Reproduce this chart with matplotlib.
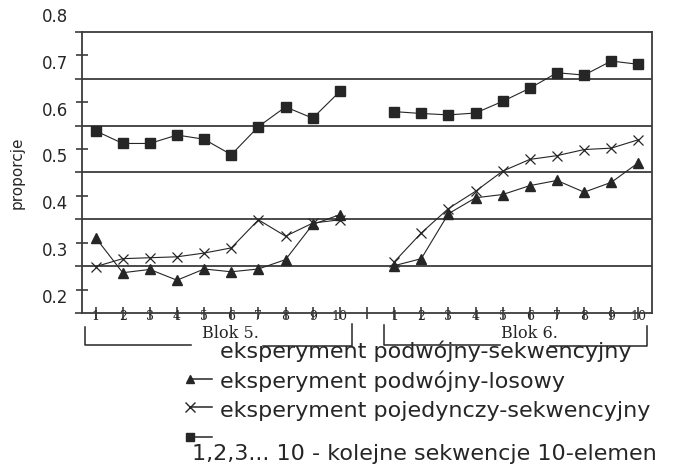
import matplotlib.pyplot as plt
from matplotlib.lines import Line2D
from matplotlib.transforms import offset_copy
import numpy as np

# Sequence numbers shown under each block (the 11th slot is the gap between blocks)
seq_labels = ['1', '2', '3', '4', '5', '6', '7', '8', '9', '10']
block_names = ['Blok 5.', 'Blok 6.']

# Proportions, block 5 and block 6
sq_blok5 = [0.589, 0.562, 0.562, 0.580, 0.571, 0.538, 0.598, 0.640, 0.616, 0.673]
sq_blok6 = [0.630, 0.626, 0.623, 0.627, 0.652, 0.680, 0.713, 0.708, 0.738, 0.731]
tri_blok5 = [0.361, 0.286, 0.293, 0.270, 0.294, 0.288, 0.294, 0.314, 0.389, 0.410]
tri_blok6 = [0.301, 0.316, 0.412, 0.446, 0.453, 0.472, 0.483, 0.458, 0.479, 0.521]
x_blok5 = [0.299, 0.316, 0.318, 0.320, 0.328, 0.339, 0.399, 0.364, 0.392, 0.399]
x_blok6 = [0.309, 0.371, 0.423, 0.460, 0.503, 0.528, 0.536, 0.549, 0.552, 0.570]

y_labels = ['0.2', '0.3', '0.4', '0.5', '0.6', '0.7', '0.8']
y_values = [0.2, 0.3, 0.4, 0.5, 0.6, 0.7, 0.8]

legend_lines = ['eksperyment podwójny-sekwencyjny',
                'eksperyment podwójny-losowy',
                'eksperyment pojedynczy-sekwencyjny',
                '1,2,3... 10 - kolejne sekwencje 10-elemen']

ink = '#262626'
W, H = 677, 466

fig = plt.figure(figsize=(W / 100, H / 100), dpi=100)
ax = fig.add_axes([82 / W, 1 - 313 / H, 570 / W, 281 / H])

pos5 = np.arange(10)
pos6 = np.arange(11, 21)

style = dict(color=ink, lw=0.8)
ax.plot(pos5, sq_blok5, marker='s', ms=7, **style)
ax.plot(pos6, sq_blok6, marker='s', ms=7, **style)
ax.plot(pos5, tri_blok5, marker='^', ms=6.5, **style)
ax.plot(pos6, tri_blok6, marker='^', ms=6.5, **style)
ax.plot(pos5, x_blok5, marker='x', ms=7, mew=0.9, **style)
ax.plot(pos6, x_blok6, marker='x', ms=7, mew=0.9, **style)

ax.set_xlim(-0.5, 20.5)
ax.set_ylim(0.2, 0.8)

# horizontal grid lines
for v in y_values[1:-1]:
    ax.axhline(v, color='#3c3c3c', lw=1.3, zorder=0)

for s in ax.spines.values():
    s.set_color('#3c3c3c')
    s.set_linewidth(1.3)

# y axis: short outward ticks at grid lines, crossing ticks halfway
ax.set_yticks(y_values)
ax.set_yticklabels([])
ax.set_yticks(np.array(y_values[:-1]) + 0.05, minor=True)
ax.tick_params(axis='y', which='major', direction='out', length=5, width=1.2, color='#3c3c3c')
ax.tick_params(axis='y', which='minor', direction='inout', length=8, width=1.2, color='#3c3c3c')

# y labels sit a bit above their grid lines, like in the scanned original
ytrans = offset_copy(ax.get_yaxis_transform(), fig=fig, x=-14, y=15, units='dots')
for v, lab in zip(y_values, y_labels):
    ax.text(0, v, lab, transform=ytrans, ha='right', va='center',
            fontsize=12, color=ink)
ax.set_ylabel('proporcje', fontsize=11, color=ink, labelpad=33)

# x axis: ticks cross the axis and the numbers overlap it
ax.set_xticks(np.arange(21))
ax.set_xticklabels(seq_labels + [''] + seq_labels, family='DejaVu Serif',
                   fontsize=9, color=ink)
ax.tick_params(axis='x', direction='inout', length=9, width=1.2,
               color='#3c3c3c', pad=-7)


def px_to_ax(y):
    return (313 - y) / 281


# brackets under the blocks
xt = ax.get_xaxis_transform()
brackets = [(-0.39, 3.5, 6.15, 9.45, 327, 324), (10.63, 14.9, 16.75, 20.32, 325, 326)]
for (x0, xa, xb, x1, ytop0, ytop1), name in zip(brackets, block_names):
    ax.plot([x0, x0, xa], [px_to_ax(ytop0), px_to_ax(345), px_to_ax(345)],
            transform=xt, clip_on=False, color=ink, lw=1.1)
    ax.plot([xb, x1, x1], [px_to_ax(346), px_to_ax(346), px_to_ax(ytop1)],
            transform=xt, clip_on=False, color=ink, lw=1.1)
    ax.text((xa + xb) / 2 + 0.15, px_to_ax(333), name, transform=xt,
            ha='center', va='center', family='DejaVu Serif', fontsize=11.5,
            color=ink)

# legend, drawn by hand since the sample markers are offset from the text
text_y = [358, 388, 417, 460]
text_x = [220, 220, 220, 192]
for lab, tx, ty in zip(legend_lines, text_x, text_y):
    fig.text(tx / W, 1 - ty / H, lab, ha='left', va='baseline',
             fontsize=16, color=ink)

for mk, my, ms in [('^', 379, 6), ('x', 407, 6.5), ('s', 437, 6)]:
    fig.add_artist(Line2D([190 / W, 212 / W], [1 - my / H, 1 - my / H],
                          color=ink, lw=1.1, marker=mk, ms=ms, mew=1,
                          markevery=[0], transform=fig.transFigure))

plt.savefig('out.png', dpi=100)
